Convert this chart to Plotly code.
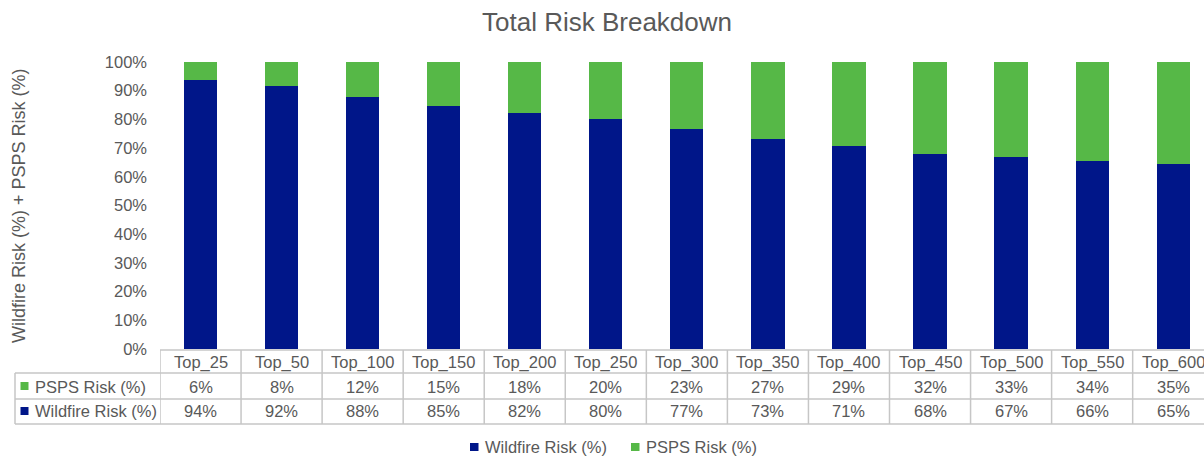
import plotly.graph_objects as go

categories = ["Top_25", "Top_50", "Top_100", "Top_150", "Top_200", "Top_250", "Top_300",
              "Top_350", "Top_400", "Top_450", "Top_500", "Top_550", "Top_600"]
wildfire = [93.6, 91.6, 87.8, 84.6, 82.2, 80.1, 76.8, 73.2, 70.8, 67.9, 66.9, 65.6, 64.6]
psps = [6.4, 8.4, 12.2, 15.4, 17.8, 19.9, 23.2, 26.8, 29.2, 32.1, 33.1, 34.4, 35.4]
series_names = ["Wildfire Risk (%)", "PSPS Risk (%)"]
yticks = list(range(0, 101, 10))

NAVY = "#001689"
GREEN = "#56B847"
TXT = "#595959"
GRID = "#c6c6c6"
FONT = "Liberation Sans, Arial, sans-serif"

W, H = 1204, 456
L, R, T, B = 160, 1204, 62, 349


def pxx(x):
    return (x - L) / (R - L)


def pxy(y):
    return (B - y) / (B - T)


xs = list(range(len(categories)))

fig = go.Figure()
fig.add_trace(go.Bar(x=xs, y=wildfire, name=series_names[0], marker=dict(color=NAVY, line=dict(width=0)),
                     width=0.41, showlegend=False))
fig.add_trace(go.Bar(x=xs, y=psps, name=series_names[1], marker=dict(color=GREEN, line=dict(width=0)),
                     width=0.41, showlegend=False))

shapes = []
annotations = []
line = dict(color=GRID, width=1.5)

# table lines
shapes.append(dict(type="line", xref="x", yref="paper", x0=-0.5, x1=12.6, y0=pxy(350), y1=pxy(350), line=line))
for yy in (373, 399, 424):
    shapes.append(dict(type="line", xref="paper", yref="paper", x0=pxx(15), x1=1.01,
                       y0=pxy(yy), y1=pxy(yy), line=line))
shapes.append(dict(type="line", xref="paper", yref="paper", x0=pxx(15), x1=pxx(15),
                   y0=pxy(373), y1=pxy(424), line=line))
for i in range(len(categories) + 1):
    shapes.append(dict(type="line", xref="x", yref="paper", x0=i - 0.5, x1=i - 0.5,
                       y0=pxy(350), y1=pxy(424), line=line))

tfont = dict(family=FONT, size=16.5, color=TXT)
for i, c in enumerate(categories):
    annotations.append(dict(x=i, y=pxy(362), xref="x", yref="paper", text=c, showarrow=False,
                            xanchor="center", yanchor="middle", font=tfont))
    annotations.append(dict(x=i, y=pxy(386.5), xref="x", yref="paper", text=f"{round(psps[i])}%",
                            showarrow=False, xanchor="center", yanchor="middle", font=tfont))
    annotations.append(dict(x=i, y=pxy(411.5), xref="x", yref="paper", text=f"{round(wildfire[i])}%",
                            showarrow=False, xanchor="center", yanchor="middle", font=tfont))

# row labels with color keys
for name, color, yc in ((series_names[1], GREEN, 386.5), (series_names[0], NAVY, 411.5)):
    shapes.append(dict(type="rect", xref="paper", yref="paper", x0=pxx(20.5), x1=pxx(28.5),
                       y0=pxy(yc - 4.5), y1=pxy(yc + 3.5), fillcolor=color, line=dict(width=0)))
    annotations.append(dict(x=pxx(33), y=pxy(yc), xref="paper", yref="paper", text=name,
                            showarrow=False, xanchor="left", yanchor="middle", font=tfont))

# bottom legend
for name, color, x0 in ((series_names[0], NAVY, 470), (series_names[1], GREEN, 631)):
    shapes.append(dict(type="rect", xref="paper", yref="paper", x0=pxx(x0), x1=pxx(x0 + 8.5),
                       y0=pxy(443), y1=pxy(451), fillcolor=color, line=dict(width=0)))
    annotations.append(dict(x=pxx(x0 + 12.5), y=pxy(447), xref="paper", yref="paper", text=name,
                            showarrow=False, xanchor="left", yanchor="middle", font=tfont))

# y-axis title
annotations.append(dict(x=pxx(19), y=pxy(206), xref="paper", yref="paper",
                        text="Wildfire Risk (%) + PSPS Risk (%)", textangle=-90, showarrow=False,
                        xanchor="center", yanchor="middle", font=dict(family=FONT, size=18, color=TXT)))

fig.update_layout(
    width=W, height=H,
    margin=dict(l=L, r=W - R, t=T, b=H - B, pad=0),
    paper_bgcolor="white", plot_bgcolor="white",
    barmode="stack",
    title=dict(text="Total Risk Breakdown", x=607 / W, xref="container", xanchor="center",
               y=1 - 22 / H, yref="container", yanchor="middle",
               font=dict(family=FONT, size=26, color=TXT)),
    xaxis=dict(range=[-0.5, 12.38], showticklabels=False, showgrid=False, zeroline=False,
               showline=False, ticks=""),
    yaxis=dict(range=[0, 100], tickvals=yticks, ticktext=[f"{v}%" for v in yticks],
               showgrid=False, zeroline=False, showline=False, ticks="",
               ticklabelstandoff=12, tickfont=dict(family=FONT, size=16.5, color=TXT)),
    shapes=shapes,
    annotations=annotations,
    showlegend=False,
)

fig.write_html("out.html")
